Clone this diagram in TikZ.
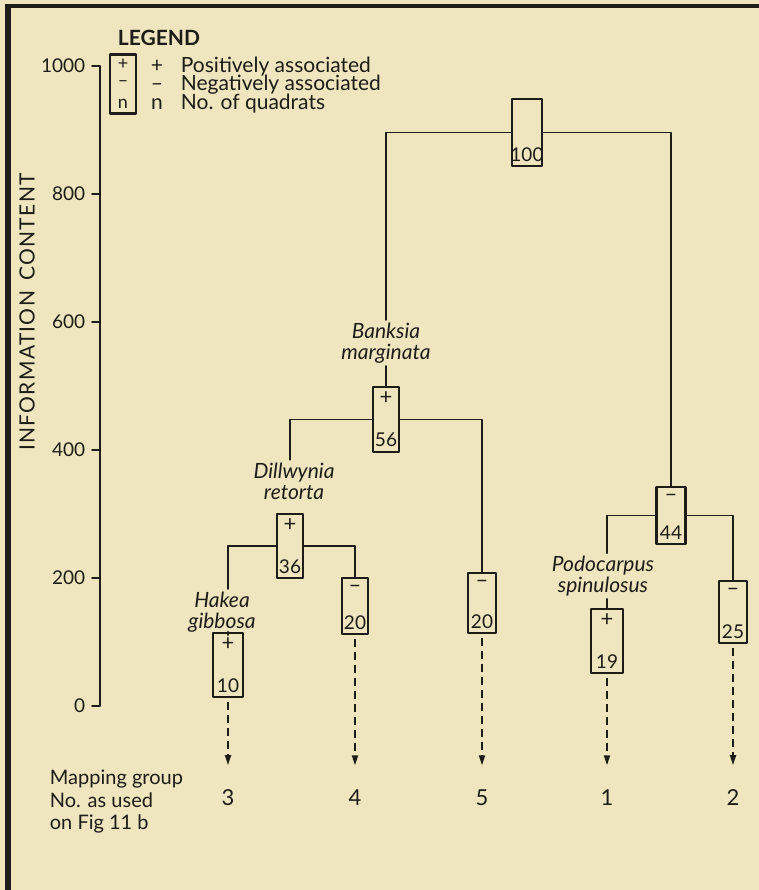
\documentclass[tikz,border=0pt]{standalone}
\usepackage{fontspec}
\setmainfont{Lato}
\usetikzlibrary{arrows.meta}
\definecolor{paper}{RGB}{239,229,190}
\definecolor{ink}{RGB}{30,28,24}
\begin{document}
\begin{tikzpicture}[x=0.5pt, y=-0.5pt, line join=round, line cap=round,
		>={Triangle[length=5pt, width=3pt]}, draw=ink, text=ink, line width=0.9pt,
		grp/.style={draw, fill=paper, line width=1.2pt, inner sep=0pt},
		sgn/.style={font=\fontsize{11}{11}\selectfont, inner sep=0pt},
		qnum/.style={font=\fontsize{9.5}{10}\selectfont, inner sep=0pt},
		taxon/.style={font=\itshape\fontsize{10.5}{10.5}\selectfont, align=center, inner sep=1pt},
		axnum/.style={font=\fontsize{9.5}{10}\selectfont, anchor=east, inner sep=0pt},
		grpno/.style={font=\fontsize{11}{11}\selectfont, anchor=base, inner sep=0pt},
		keytxt/.style={font=\fontsize{10.5}{10}\selectfont, anchor=base west, inner sep=0pt},
		maptxt/.style={font=\fontsize{10}{11}\selectfont, anchor=base west, inner sep=0pt},
		route/.style={->, dash pattern=on 4pt off 2.5pt, line cap=butt, shorten >=11.5pt, shorten <=2pt}]
	\def\grp#1#2#3#4#5#6#7{% name, x, top, bottom, width, sign, quadrats
		\node[grp, minimum width=#5*0.5pt, minimum height={(#4-#3)*0.5pt}] (#1) at (#2,{(#3+#4)/2}) {};
		\node[sgn] (#1s) at ([yshift=-6pt]#1.north) {#6};
		\node[qnum] (#1n) at ([yshift=6.5pt]#1.south) {#7};}
	\useasboundingbox (0,0) rectangle (759,890);
	\fill[paper] (0,0) rectangle (759,890);
	\draw[line width=3pt, line cap=butt] (8,890) -- (8,4);
	\draw[line width=2pt, line cap=butt] (5,6) -- (759,6);
	% legend
	\node[font=\bfseries\fontsize{10.5}{12}\selectfont, anchor=base west, inner sep=0pt] (legend) at (117,45) {LEGEND};
	\node[grp, minimum width=13pt, minimum height=29.5pt] (key) at (123,84) {};
	\foreach \s/\y in {+/64, –/84, n/104} \node[sgn, font=\fontsize{9}{9}\selectfont] (key\y) at (123,\y) {\s};
	\foreach \s/\t/\y [count=\i] in {+/Positively associated/72, –/Negatively associated/90, n/No. of quadrats/109} {
		\node[keytxt, anchor=base] (ks\i) at (157,\y) {\s};
		\node[keytxt] (kt\i) at (180,\y) {\t};
	}
	% axis
	\draw (92,66) -- (100,66) -- (100,706) -- (92,706);
	\foreach \v in {200,400,600,800} \draw (92,{706-0.64*\v}) -- (100,{706-0.64*\v});
	\foreach \v in {0,200,...,1000} \node[axnum] (ax\v) at (86,{706-0.64*\v}) {\v};
	\node[rotate=90, font=\fontsize{10.5}{11}\selectfont\addfontfeature{LetterSpace=6}] (axlabel) at (27,312) {INFORMATION\enspace CONTENT};
	% groups
	\grp{b100}{527}{99}{166}{30}{}{100}
	\grp{b56}{386}{387}{452}{26}{+}{56}
	\grp{b36}{290}{514}{578}{26}{+}{36}
	\grp{b10}{228}{633}{697}{30}{+}{10}
	\grp{b20a}{355}{578}{634}{26}{–}{20}
	\grp{b20b}{482}{573}{633}{28}{–}{20}
	\grp{b44}{671}{487}{544}{29}{–}{44}
	\grp{b19}{607}{609}{673}{32}{+}{19}
	\grp{b25}{733}{581}{643}{28}{–}{25}
	\node[taxon] (banksia) at (386,343) {Banksia\\marginata};
	\node[taxon] (dill) at (294,481) {Dillwynia\\retorta};
	\node[taxon] (hakea) at (222,612) {Hakea\\gibbosa};
	\node[taxon] (podo) at (603,576) {Podocarpus\\spinulosus};
	\draw (b100.west) -| (banksia.north -| b56);
	\draw (banksia.south -| b56) -- (b56);
	\draw (b100.east) -| (b44);
	\draw (b56.west) -| (dill.north -| b36);
	\draw (b56.east) -| (b20b);
	\draw (b36.west) -| (hakea.north -| b10);
	\draw (hakea.south -| b10) -- (b10);
	\draw (b36.east) -| (b20a);
	\draw (b44.west) -| (podo.north -| b19);
	\draw (podo.south -| b19) -- (b19);
	\draw (b44.east) -| (b25);
	% mapping groups
	\foreach \b/\g in {b10/3, b20a/4, b20b/5, b19/1, b25/2} {
		\node[grpno] (g\g) at (\b.south |- 0,805) {\g};
		\draw[route] (\b.south) -- (g\g.north);
	}
	\foreach \t/\y [count=\i] in {Mapping group/784, No. as used/807, on Fig 11 b/829}
		\node[maptxt] (map\i) at (49,\y) {\t};
\end{tikzpicture}
\end{document}
